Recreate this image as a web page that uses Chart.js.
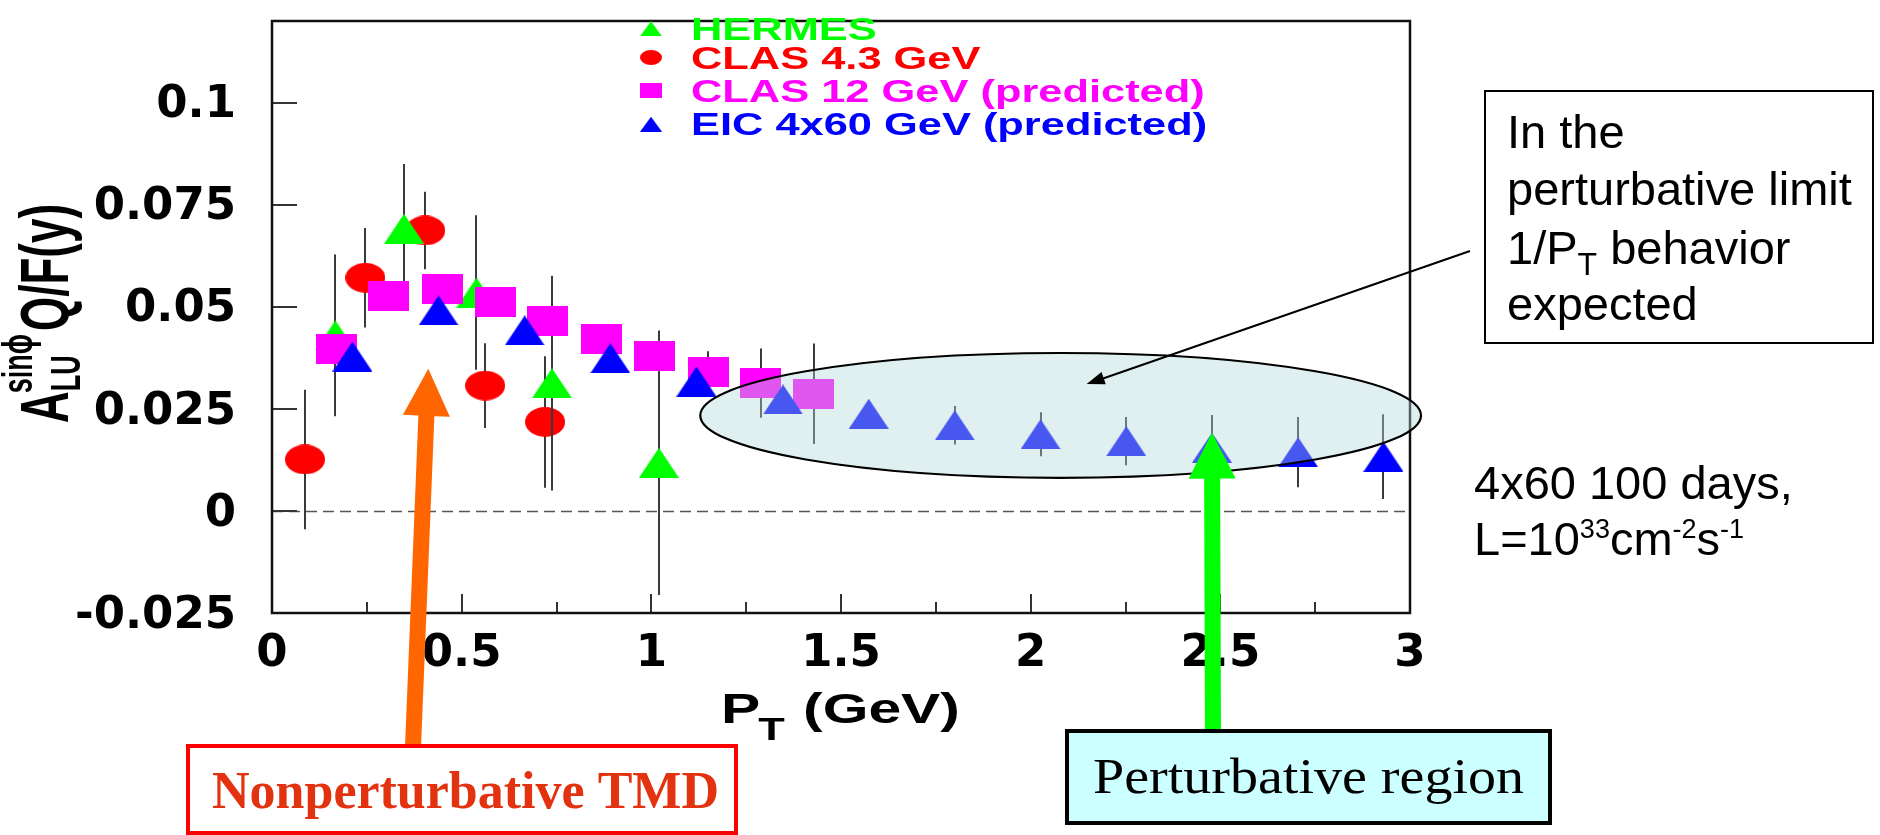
<!DOCTYPE html>
<html>
<head>
<meta charset="utf-8">
<title>Beam-spin asymmetry versus P_T</title>
<script src="https://cdn.jsdelivr.net/npm/chart.js@4.4.1/dist/chart.umd.min.js"></script>
<style>
  html, body { margin: 0; padding: 0; background: #ffffff; overflow: hidden; }
  #wrap { position: relative; width: 1880px; height: 835px; }
  canvas { display: block; }
</style>
</head>
<body>
<div id="wrap"><canvas id="chart" width="1880" height="835"></canvas></div>
<script>
// ---- A_LU^{sin phi} Q/F(y) versus P_T (GeV) ----
const hermesPt  = [0.167, 0.348, 0.539, 0.738, 1.020];
const hermesA   = [0.0430, 0.0691, 0.0535, 0.0313, 0.0118];
const hermesErr = [0.0198, 0.0159, 0.0189, 0.0263, 0.0324];

const clas43Pt  = [0.087, 0.246, 0.404, 0.562, 0.720];
const clas43A   = [0.0126, 0.0571, 0.0687, 0.0307, 0.0218];
const clas43Err = [0.0171, 0.0122, 0.0095, 0.0104, 0.0161];

const clas12Pt  = [0.169, 0.308, 0.449, 0.588, 0.727, 0.868, 1.008, 1.150, 1.288, 1.428];
const clas12A   = [0.0397, 0.0526, 0.0543, 0.0511, 0.0466, 0.0420, 0.0380, 0.0341, 0.0313, 0.0287];
const clas12Err = [0.003, 0.003, 0.003, 0.003, 0.003, 0.003, 0.003, 0.005, 0.0085, 0.0123];

const eicPt  = [0.212, 0.439, 0.666, 0.892, 1.119, 1.347, 1.573, 1.800, 2.026, 2.252, 2.478, 2.705, 2.930];
const eicA   = [0.0378, 0.0491, 0.0442, 0.0374, 0.0317, 0.0273, 0.0238, 0.0210, 0.0188, 0.0171, 0.0155, 0.0144, 0.0133];
const eicErr = [0.003, 0.003, 0.003, 0.003, 0.003, 0.003, 0.003, 0.0047, 0.0054, 0.0059, 0.0080, 0.0086, 0.0104];

const seriesLabels = ['HERMES', 'CLAS 4.3 GeV', 'CLAS 12 GeV (predicted)', 'EIC 4x60 GeV (predicted)'];

const xTickLabels = ['0', '0.5', '1', '1.5', '2', '2.5', '3'];
const yTickLabels = ['-0.025', '0', '0.025', '0.05', '0.075', '0.1'];

// ---- styling ----
const GREEN = '#00ff00', RED = '#ff0000', MAGENTA = '#ff00ff', BLUE = '#0000ff';
const ROOT_FONT = '"Liberation Sans", Arial, sans-serif';
const STRETCH = 1.4;   // the ROOT figure text is set wide

// marker sprites (the figure is wider than tall, so markers are too)
function sprite(shape, w, h, color) {
  const c = document.createElement('canvas');
  c.width = w; c.height = h;
  const g = c.getContext('2d');
  g.fillStyle = color;
  g.beginPath();
  if (shape === 'tri') { g.moveTo(w / 2, 0); g.lineTo(w, h); g.lineTo(0, h); g.closePath(); }
  else if (shape === 'circ') { g.ellipse(w / 2, h / 2, w / 2, h / 2, 0, 0, Math.PI * 2); }
  else { g.rect(0, 0, w, h); }
  g.fill();
  return c;
}

const series = [
  { label: seriesLabels[0], pt: hermesPt, a: hermesA, err: hermesErr, color: GREEN,   shape: 'tri',  order: 2 },
  { label: seriesLabels[1], pt: clas43Pt, a: clas43A, err: clas43Err, color: RED,     shape: 'circ', order: 3 },
  { label: seriesLabels[2], pt: clas12Pt, a: clas12A, err: clas12Err, color: MAGENTA, shape: 'rect', order: 1 },
  { label: seriesLabels[3], pt: eicPt,    a: eicA,    err: eicErr,    color: BLUE,    shape: 'tri',  order: 0 }
];

const datasets = series.map(s => ({
  label: s.label,
  data: s.pt.map((x, i) => ({ x, y: s.a[i] })),
  errors: s.err,
  shape: s.shape,
  color: s.color,
  order: s.order,
  pointStyle: sprite(s.shape, s.shape === 'rect' ? 41 : 40, 30, s.color),
  pointRadius: 20,
  backgroundColor: s.color,
  borderColor: s.color,
  clip: false
}));

// vertical error bars, drawn just before each series' markers
const errorBars = {
  id: 'errorBars',
  beforeDatasetDraw(chart, args) {
    const ds = chart.data.datasets[args.index];
    if (!ds.errors) return;
    const ys = chart.scales.y, ctx = chart.ctx;
    ctx.save();
    ctx.strokeStyle = '#3a3a3a';
    ctx.lineWidth = 2;
    ds.data.forEach((p, i) => {
      const px = Math.round(args.meta.data[i].x);
      ctx.beginPath();
      ctx.moveTo(px, ys.getPixelForValue(p.y - ds.errors[i]));
      ctx.lineTo(px, ys.getPixelForValue(p.y + ds.errors[i]));
      ctx.stroke();
    });
    ctx.restore();
  }
};

// frame, inward tick marks and the dashed zero line
const frame = {
  id: 'frame',
  beforeDatasetsDraw(chart) {
    const { ctx, chartArea: a, scales: { x, y } } = chart;
    ctx.save();
    const y0 = Math.round(y.getPixelForValue(0)) + 0.5;
    ctx.strokeStyle = '#555555';
    ctx.lineWidth = 1.6;
    ctx.setLineDash([11, 6]);
    ctx.beginPath(); ctx.moveTo(a.left, y0); ctx.lineTo(a.right, y0); ctx.stroke();
    ctx.setLineDash([]);
    ctx.strokeStyle = '#333333';
    ctx.lineWidth = 2;
    y.ticks.forEach(t => {
      const py = Math.round(y.getPixelForValue(t.value));
      ctx.beginPath(); ctx.moveTo(a.left, py); ctx.lineTo(a.left + 25, py); ctx.stroke();
    });
    x.ticks.forEach((t, i) => {
      const px = Math.round(x.getPixelForValue(t.value));
      ctx.beginPath(); ctx.moveTo(px, a.bottom); ctx.lineTo(px, a.bottom - 19); ctx.stroke();
      if (i < x.ticks.length - 1) {
        const pm = Math.round(x.getPixelForValue((t.value + x.ticks[i + 1].value) / 2));
        ctx.beginPath(); ctx.moveTo(pm, a.bottom); ctx.lineTo(pm, a.bottom - 11); ctx.stroke();
      }
    });
    ctx.strokeStyle = '#111111';
    ctx.lineWidth = 2.5;
    ctx.strokeRect(a.left, a.top, a.right - a.left, a.bottom - a.top);
    ctx.restore();
  }
};

// translucent ellipse around the high-P_T points
const region = { cx: 2.079, cy: 0.0234, rx: 0.95, ry: 0.01528 };
const ellipse = {
  id: 'ellipse',
  afterDatasetsDraw(chart) {
    const { ctx, scales: { x, y } } = chart;
    const cx = x.getPixelForValue(region.cx), cy = y.getPixelForValue(region.cy);
    const rx = x.getPixelForValue(region.cx + region.rx) - cx;
    const ry = cy - y.getPixelForValue(region.cy + region.ry);
    ctx.save();
    ctx.beginPath();
    ctx.ellipse(cx, cy, rx, ry, 0, 0, Math.PI * 2);
    ctx.fillStyle = 'rgba(177, 217, 217, 0.4)';
    ctx.fill();
    ctx.strokeStyle = '#000000';
    ctx.lineWidth = 2.2;
    ctx.stroke();
    ctx.restore();
  }
};

function wideText(ctx, text, x, y, font, color, sx) {
  ctx.save();
  ctx.font = font;
  ctx.fillStyle = color;
  ctx.translate(x, y);
  ctx.scale(sx, 1);
  ctx.fillText(text, 0, 0);
  const w = ctx.measureText(text).width * sx;
  ctx.restore();
  return w;
}

// text squeezed or widened to a given width
function fitText(ctx, text, x, y, font, color, width) {
  ctx.save();
  ctx.font = font;
  ctx.fillStyle = color;
  ctx.translate(x, y);
  ctx.scale(width / ctx.measureText(text).width, 1);
  ctx.fillText(text, 0, 0);
  ctx.restore();
}

// legend in the top of the frame
const legendBox = {
  id: 'legendBox',
  afterDraw(chart) {
    const ctx = chart.ctx;
    const rows = [28.8, 57.5, 90.8, 124.2];
    chart.data.datasets.forEach((ds, i) => {
      const m = sprite(ds.shape, 22, 15, ds.color);
      ctx.drawImage(m, 640, rows[i] - 7.5);
      wideText(ctx, ds.label, 691, rows[i] + 11, 'bold 31px ' + ROOT_FONT, ds.color, STRETCH);
    });
  }
};

// axis titles with sub/superscripts
const axisTitles = {
  id: 'axisTitles',
  afterDraw(chart) {
    const ctx = chart.ctx;
    let x = 721;
    x += wideText(ctx, 'P', x, 723, 'bold 42px ' + ROOT_FONT, '#000', STRETCH);
    x += wideText(ctx, 'T', x - 2, 740, 'bold 31px ' + ROOT_FONT, '#000', STRETCH);
    wideText(ctx, ' (GeV)', x, 723, 'bold 42px ' + ROOT_FONT, '#000', STRETCH);

    // y title, reading upward: A^{sin phi}_{LU} Q/F(y)
    ctx.save();
    ctx.translate(68, 423);
    ctx.rotate(-Math.PI / 2);
    ctx.scale(1, 1.55);
    ctx.fillStyle = '#000';
    ctx.font = 'bold 44px ' + ROOT_FONT;
    ctx.fillText('A', 0, 0);
    let t = ctx.measureText('A').width;
    ctx.font = 'bold 27px ' + ROOT_FONT;
    ctx.fillText('sin\u03d5', t - 2, -23);
    const wSup = ctx.measureText('sin\u03d5').width;
    ctx.fillText('LU', t, 8);
    const wSub = ctx.measureText('LU').width;
    t += Math.max(wSup, wSub) + 1;
    ctx.font = 'bold 44px ' + ROOT_FONT;
    ctx.fillText('Q/F(y)', t, 0);
    ctx.restore();
  }
};

function blockArrow(ctx, x0, y0, x1, y1, shaftW, headW, headL, color) {
  const dx = x1 - x0, dy = y1 - y0, L = Math.hypot(dx, dy);
  const ux = dx / L, uy = dy / L, nx = -uy, ny = ux;
  const bx = x1 - ux * headL, by = y1 - uy * headL;
  ctx.beginPath();
  ctx.moveTo(x0 + nx * shaftW / 2, y0 + ny * shaftW / 2);
  ctx.lineTo(bx + nx * shaftW / 2, by + ny * shaftW / 2);
  ctx.lineTo(bx + nx * headW / 2, by + ny * headW / 2);
  ctx.lineTo(x1, y1);
  ctx.lineTo(bx - nx * headW / 2, by - ny * headW / 2);
  ctx.lineTo(bx - nx * shaftW / 2, by - ny * shaftW / 2);
  ctx.lineTo(x0 - nx * shaftW / 2, y0 - ny * shaftW / 2);
  ctx.closePath();
  ctx.fillStyle = color;
  ctx.fill();
}

// call-outs placed over the figure
const callouts = {
  id: 'callouts',
  afterDraw(chart) {
    const { ctx, scales: { x, y } } = chart;
    const SANS = '"Liberation Sans", Arial, sans-serif';
    const SERIF = '"Liberation Serif", "Times New Roman", serif';
    ctx.save();

    // note box on the right with a thin arrow into the ellipse
    ctx.strokeStyle = '#000';
    ctx.lineWidth = 2;
    ctx.strokeRect(1485, 91, 388, 252);
    ctx.fillStyle = '#000';
    ctx.font = '47px ' + SANS;
    ctx.fillText('In the', 1507, 148);
    ctx.fillText('perturbative limit', 1507, 205);
    ctx.fillText('1/P', 1507, 264);
    let w = ctx.measureText('1/P').width;
    ctx.font = '32px ' + SANS;
    ctx.fillText('T', 1507 + w, 275);
    w += ctx.measureText('T').width;
    ctx.font = '47px ' + SANS;
    ctx.fillText(' behavior', 1507 + w, 264);
    ctx.fillText('expected', 1507, 320);

    const tipX = x.getPixelForValue(region.cx) + 26, tipY = y.getPixelForValue(region.cy + 0.0077);
    ctx.lineWidth = 2;
    ctx.beginPath(); ctx.moveTo(1470, 251); ctx.lineTo(tipX + 15, tipY - 5); ctx.stroke();
    blockArrow(ctx, 1470, 251, tipX, tipY, 0, 13, 18, '#000');

    // run conditions
    ctx.font = '47px ' + SANS;
    ctx.fillText('4x60 100 days,', 1474, 499);
    let lx = 1474;
    ctx.fillText('L=10', lx, 555); lx += ctx.measureText('L=10').width;
    ctx.font = '27px ' + SANS; ctx.fillText('33', lx, 538); lx += ctx.measureText('33').width;
    ctx.font = '47px ' + SANS; ctx.fillText('cm', lx, 555); lx += ctx.measureText('cm').width;
    ctx.font = '27px ' + SANS; ctx.fillText('-2', lx, 538); lx += ctx.measureText('-2').width;
    ctx.font = '47px ' + SANS; ctx.fillText('s', lx, 555); lx += ctx.measureText('s').width;
    ctx.font = '27px ' + SANS; ctx.fillText('-1', lx, 538);

    // non-perturbative call-out
    blockArrow(ctx, 413, 747, x.getPixelForValue(0.412), y.getPixelForValue(0.0348), 16, 47, 47, '#ff6600');
    ctx.fillStyle = '#ffffff';
    ctx.fillRect(188, 746, 548, 87);
    ctx.strokeStyle = '#ff0000';
    ctx.lineWidth = 4;
    ctx.strokeRect(188, 746, 548, 87);
    ctx.font = 'bold 52px ' + SERIF;
    ctx.fillStyle = '#e3320f';
    ctx.fillText('Nonperturbative TMD', 212, 808);

    // perturbative call-out pointing at an EIC point
    const gx = x.getPixelForValue(eicPt[10]);
    blockArrow(ctx, gx + 1, 732, gx, y.getPixelForValue(eicA[10]) - 15, 16, 47, 46, '#00ff00');
    ctx.fillStyle = '#ccffff';
    ctx.fillRect(1067, 731, 483, 92);
    ctx.strokeStyle = '#000';
    ctx.lineWidth = 4;
    ctx.strokeRect(1067, 731, 483, 92);
    fitText(ctx, 'Perturbative region', 1093, 793, '50px ' + SERIF, '#000', 431);
    ctx.restore();
  }
};

const tickFont = { family: '"DejaVu Sans", sans-serif', weight: 'bold', size: 45 };

new Chart(document.getElementById('chart'), {
  type: 'scatter',
  data: { datasets },
  options: {
    responsive: false,
    animation: false,
    devicePixelRatio: 1,
    events: [],
    layout: { padding: { left: 0, top: 6, right: 470, bottom: 0 } },
    plugins: { legend: { display: false }, tooltip: { enabled: false } },
    scales: {
      x: {
        type: 'linear', min: 0, max: 3,
        afterBuildTicks: s => { s.ticks = xTickLabels.map(v => ({ value: Number(v) })); },
        afterFit: s => { s.height = 222; s.paddingLeft = 0; s.paddingRight = 0; },
        grid: { display: false, drawTicks: false },
        border: { display: false },
        ticks: {
          autoSkip: false, maxRotation: 0, minRotation: 0, padding: 14, color: '#000000', font: tickFont,
          callback: (v, i) => xTickLabels[i]
        }
      },
      y: {
        type: 'linear', min: -0.025, max: 0.12,
        afterBuildTicks: s => { s.ticks = yTickLabels.map(v => ({ value: Number(v) })); },
        afterFit: s => { s.width = 272; s.paddingTop = 0; s.paddingBottom = 0; },
        grid: { display: false, drawTicks: false },
        border: { display: false },
        ticks: {
          autoSkip: false, padding: 36, labelOffset: 3, color: '#000000', font: tickFont,
          callback: (v, i) => yTickLabels[i]
        }
      }
    }
  },
  plugins: [frame, errorBars, ellipse, legendBox, axisTitles, callouts]
});
</script>
</body>
</html>
